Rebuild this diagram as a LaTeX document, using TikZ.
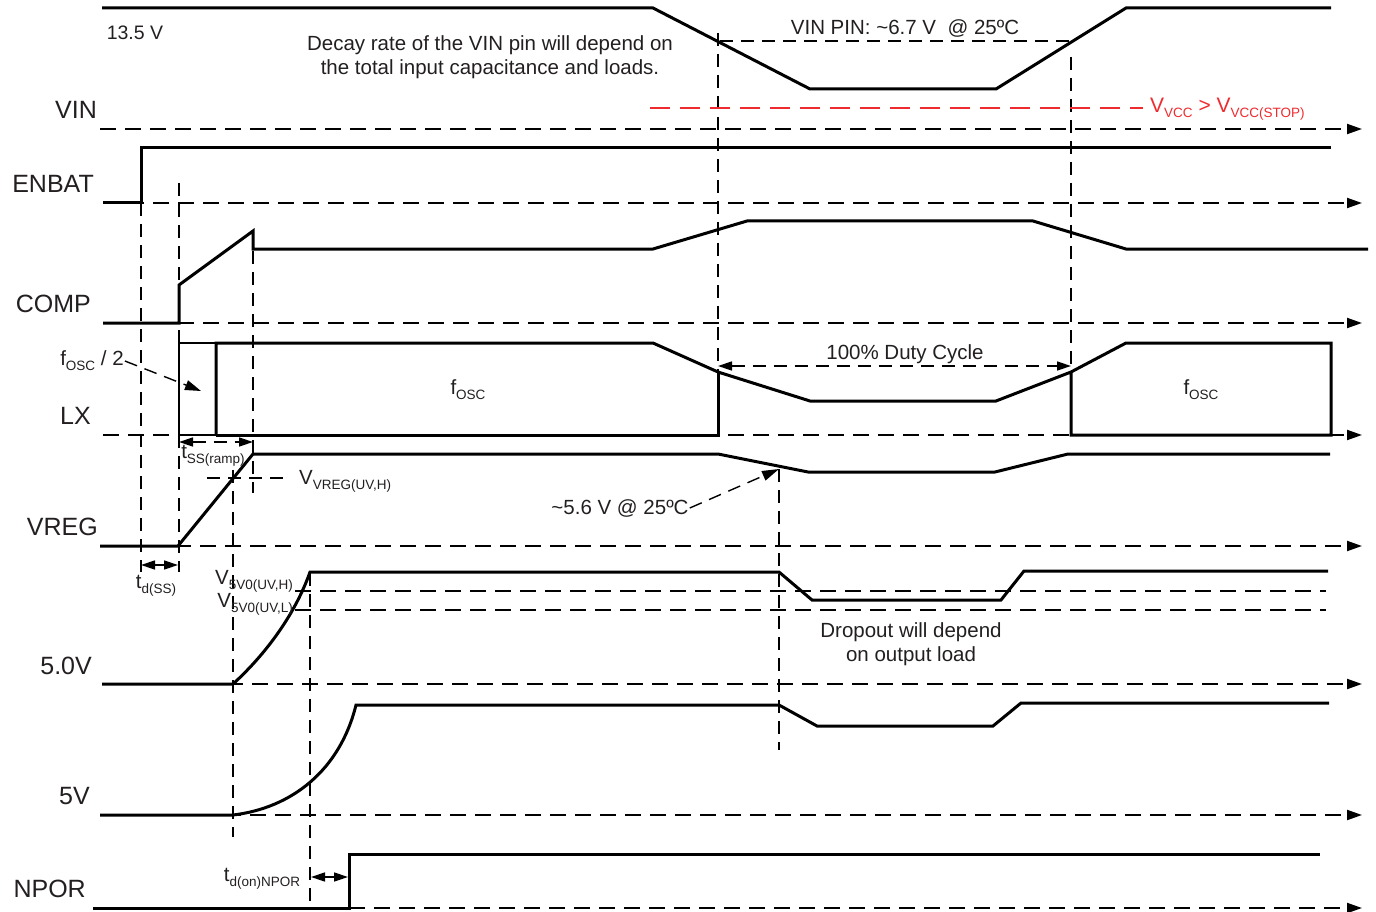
\documentclass[tikz,border=0pt]{standalone}
\usepackage{fontspec}
\setmainfont{Liberation Sans}
\usetikzlibrary{arrows.meta}
\definecolor{ink}{HTML}{231F20}
\definecolor{warnred}{HTML}{EE2B2F}
\newcommand{\lowtxt}[1]{\raisebox{-0.45ex}{\fontsize{13.5}{14}\selectfont #1}}
\tikzstyle{sig} = [line width=3pt]
\tikzstyle{thinsig} = [line width=2pt]
\tikzstyle{axis} = [line width=2pt, dash pattern=on 16pt off 9pt,
    -{Triangle[length=15pt,width=10pt]}]
\tikzstyle{guide} = [line width=1.4pt, dash pattern=on 13pt off 8pt]
\tikzstyle{dim} = [line width=1.5pt,
    {Triangle[length=14pt,width=9pt]}-{Triangle[length=14pt,width=9pt]}]
\tikzstyle{signame} = [font=\fontsize{25}{28}\selectfont, text=ink, anchor=east, inner sep=0pt]
\tikzstyle{note} = [font=\fontsize{20.5}{24}\selectfont, text=ink, inner sep=1pt]

\begin{document}
\begin{tikzpicture}[x=1pt,y=-1pt]
\useasboundingbox (0,0) rectangle (1376,912);

% signal names
\node[signame] (vin) at (97,110) {VIN};
\node[signame] (enbat) at (94,184) {ENBAT};
\node[signame] (comp) at (91,304) {COMP};
\node[signame] (lx) at (91,416) {LX};
\node[signame] (vreg) at (98,527) {VREG};
\node[signame] (vfivezero) at (92,666) {5.0V};
\node[signame] (vfive) at (90,796) {5V};
\node[signame] (npor) at (86,889) {NPOR};

% time axes
\draw[axis] (100,129) -- (1362,129);
\draw[axis] (103,203) -- (1362,203);
\draw[axis] (103,323) -- (1362,323);
\draw[axis] (103,435) -- (1362,435);
\draw[axis] (100,546) -- (1362,546);
\draw[axis] (102,684) -- (1362,684);
\draw[axis] (100,815) -- (1362,815);
\draw[axis] (349,908) -- (1362,908);

% vertical guides
\draw[guide] (141,203) -- (141,572);
\draw[guide] (179,183) -- (179,572);
\draw[guide] (253,230) -- (253,493);
\draw[guide] (718,33) -- (718,435);
\draw[guide] (1071,57) -- (1071,372);
\draw[guide] (233,470) -- (233,837);
\draw[guide] (310,573) -- (310,910);
\draw[guide] (779,469) -- (779,750);

% VIN
\draw[sig] (102,8) -- (653,8) -- (810,89) -- (996,89) -- (1126,8) -- (1331,8);
\node[note, font=\fontsize{19.5}{22}\selectfont] (vinhigh) at (135,33) {13.5 V};
\node[note, align=center] (decay) at (490,57)
    {Decay rate of the VIN pin will depend on\\the total input capacitance and loads.};
\draw[guide] (720,41) -- (1071,41);
\node[note] (vinpin) at (905,28) {VIN PIN: \textasciitilde6.7 V\ \ @ 25ºC};
\draw[warnred, line width=1.7pt, dash pattern=on 20pt off 10pt] (650,108) -- (1143,108);
\node[note, text=warnred, anchor=west, font=\fontsize{21}{24}\selectfont] (vccstop) at (1149,109)
    {V\lowtxt{VCC} > V\lowtxt{VCC(STOP)}};

% ENBAT
\draw[sig] (103,203) -- (141,203) -- (141,148) -- (1331,148);

% COMP
\draw[sig] (103,323) -- (179,323) -- (179,285) -- (253,231) -- (253,249) -- (653,249)
    -- (747,221) -- (1033,221) -- (1126,249) -- (1368,249);

% LX
\draw[thinsig] (216,343) -- (179,343) -- (179,435) -- (216,435);
\draw[sig] (216,435) -- (216,343) -- (653,343) -- (718,372) -- (810,401) -- (996,401)
    -- (1071,372) -- (1126,343) -- (1331,343) -- (1331,435) -- (1071,435) -- (1071,372);
\draw[sig] (216,435) -- (718,435) -- (718,372);
\node[note] (fosca) at (468,390) {f\lowtxt{OSC}};
\node[note] (foscb) at (1201,390) {f\lowtxt{OSC}};
\node[note] (foschalf) at (92,361) {f\lowtxt{OSC} / 2};
\draw[guide, -{Triangle[length=16pt,width=10pt]}] (foschalf.east) -- (201,391);
\draw[dim, dash pattern=on 13pt off 8pt] (718,366) -- (1071,366);
\node[note] (duty) at (905,354) {100\% Duty Cycle};
\draw[dim, dash pattern=on 13pt off 8pt] (179,442) -- (253,442);
\node[note] (tssramp) at (213,456) {t\lowtxt{SS(ramp)}};

% VREG
\draw[sig] (100,546) -- (178,546) -- (253,454) -- (718,454) -- (808,472) -- (995,472)
    -- (1068,454) -- (1330,454);
\draw[guide] (207,478) -- (290,478);
\node[note, anchor=west] (vreguv) at (298,481) {V\lowtxt{VREG(UV,H)}};
\node[note] (dropvreg) at (620,508) {\textasciitilde5.6 V @ 25ºC};
\draw[guide, -{Triangle[length=17pt,width=10pt]}] (dropvreg.east) -- (779,469);
\draw[dim] (141,565) -- (178,565);
\node[note] (tdss) at (156,586) {t\lowtxt{d(SS)}};

% 5.0V
\draw[sig] (102,684) -- (233,684) .. controls (268,652) and (296,612) .. (310,572)
    -- (779,572) -- (812,600) -- (1001,600) -- (1024,571) -- (1328,571);
\draw[guide, line width=2pt, dash pattern=on 16pt off 9pt] (295,591) -- (1326,591);
\draw[guide, line width=2pt, dash pattern=on 16pt off 9pt] (295,610) -- (1326,610);
\node[note, anchor=east] (v5uvh) at (294,581) {V\lowtxt{5V0(UV,H)}};
\node[note, anchor=east] (v5uvl) at (294,604) {V\lowtxt{5V0(UV,L)}};
\node[note, align=center] (dropout) at (911,644) {Dropout will depend\\on output load};

% 5V
\draw[sig] (100,815) -- (233,815) .. controls (292,808) and (340,770) .. (356,705)
    -- (779,705) -- (817,726) -- (993,726) -- (1021,703) -- (1329,703);

% NPOR
\draw[sig] (93,908) -- (349,908) -- (349,854) -- (1320,854);
\draw[dim] (311,877) -- (348,877);
\node[note] (tdnpor) at (262,879) {t\lowtxt{d(on)NPOR}};
\end{tikzpicture}
\end{document}
